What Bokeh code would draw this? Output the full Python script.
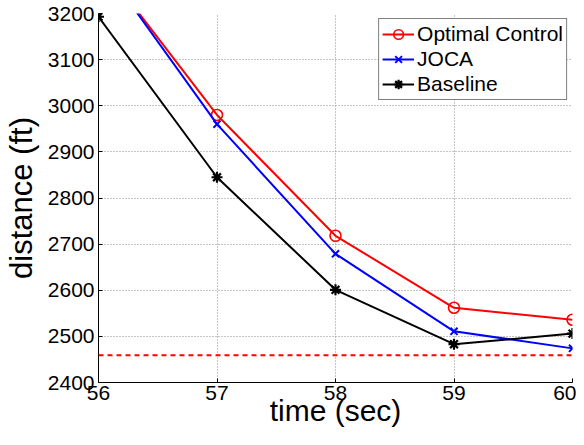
from bokeh.plotting import figure
from bokeh.models import (Legend, LegendItem, FixedTicker, Span, Range1d)
from bokeh.embed import file_html
from bokeh.resources import INLINE

# ---- data ----
time_sec = [56, 57, 58, 59, 60]
optimal_control = [3315, 2980, 2718, 2562, 2536]
joca = [3318, 2960, 2679, 2511, 2474]
baseline = [3193, 2845, 2601, 2483, 2506]
threshold = 2459
x_ticks = [56, 57, 58, 59, 60]
y_ticks = [2400, 2500, 2600, 2700, 2800, 2900, 3000, 3100, 3200]

FONT = "Liberation Sans"

p = figure(width=576, height=429, output_backend="svg", toolbar_location=None,
           x_range=Range1d(56, 60), y_range=Range1d(2400, 3200),
           min_border_left=95, min_border_right=4, min_border_top=13,
           min_border_bottom=0)
p.outline_line_color = None
p.background_fill_color = "white"
p.border_fill_color = "white"

# grid
for g in (p.xgrid, p.ygrid):
    g.grid_line_color = "#8a8a8a"
    g.grid_line_dash = "1 2"
    g.grid_line_width = 1
p.xaxis.ticker = FixedTicker(ticks=x_ticks)
p.yaxis.ticker = FixedTicker(ticks=y_ticks)

for ax in (p.xaxis, p.yaxis):
    ax.axis_line_color = "black"
    ax.axis_line_width = 1
    ax.major_tick_in = 4
    ax.major_tick_out = 0
    ax.minor_tick_line_color = None
    ax.major_label_text_font = FONT
    ax.major_label_text_font_size = "21px"
    ax.major_label_text_color = "black"
    ax.axis_label_text_font = FONT
    ax.axis_label_text_font_style = "normal"
    ax.axis_label_text_color = "black"

p.xaxis.major_label_standoff = 3
p.xaxis.axis_label = "time (sec)"
p.xaxis.axis_label_text_font_size = "30px"
p.xaxis.axis_label_standoff = -9
p.yaxis.major_label_standoff = 4
p.yaxis.axis_label = "distance (ft)"
p.yaxis.axis_label_text_font_size = "31px"
p.yaxis.axis_label_standoff = 6

# threshold dashed line
p.add_layout(Span(location=threshold, dimension="width", line_color="#ff0000",
                  line_dash="5 4", line_width=2))

r_oc_l = p.line(time_sec, optimal_control, line_color="#ff0000", line_width=2)
r_oc_m = p.scatter(time_sec, optimal_control, marker="circle", size=11,
                   line_color="#ff0000", fill_color=None, line_width=1.6)
r_j_l = p.line(time_sec, joca, line_color="#0000ff", line_width=2)
r_j_m = p.scatter(time_sec, joca, marker="x", size=10,
                  line_color="#0000ff", line_width=2)
r_b_l = p.line(time_sec, baseline, line_color="black", line_width=2)
r_b_m = p.scatter(time_sec, baseline, marker="asterisk", size=11,
                  line_color="black", line_width=2.2)

legend = Legend(items=[
    LegendItem(label="Optimal Control", renderers=[r_oc_l, r_oc_m]),
    LegendItem(label="JOCA", renderers=[r_j_l, r_j_m]),
    LegendItem(label="Baseline", renderers=[r_b_l, r_b_m]),
], location="top_right")
legend.margin = 5
legend.padding = 3
legend.spacing = 1
legend.glyph_width = 32
legend.glyph_height = 24
legend.label_height = 24
legend.label_standoff = 3
legend.label_text_font = FONT
legend.label_text_font_size = "21px"
legend.label_text_color = "black"
legend.border_line_color = "black"
legend.border_line_width = 1.5
legend.background_fill_color = "white"
legend.background_fill_alpha = 1.0
p.add_layout(legend)

open("out.html", "w").write(file_html(p, INLINE))
